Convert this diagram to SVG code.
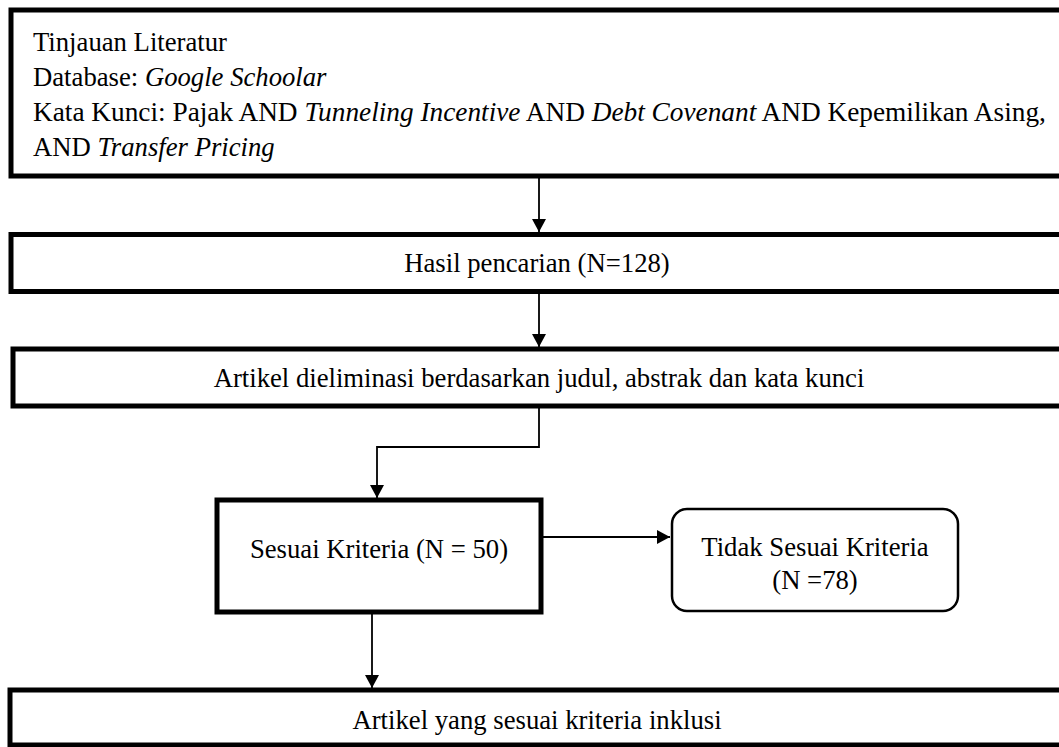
<svg xmlns="http://www.w3.org/2000/svg" width="1059" height="747" viewBox="0 0 1059 747">
<defs>
<style>
text{font-family:'Liberation Serif','Times New Roman',Times,serif;font-size:26.7px;fill:#000}
.c{text-anchor:middle}
.i{font-style:italic}
.w{font-size:27.3px}
.box{fill:#fff;stroke:#000;stroke-width:5}
.rbox{fill:#fff;stroke:#000;stroke-width:2.5}
.con{fill:none;stroke:#000;stroke-width:1.8}
</style>
<marker id="ah" markerWidth="14" markerHeight="14" refX="13" refY="7" orient="auto" markerUnits="userSpaceOnUse">
<path d="M0,0 L13,7 L0,14 Z" fill="#000"/>
</marker>
</defs>
<rect width="1059" height="747" fill="#fff"/>
<g id="connectors">
<line class="con" x1="539" y1="178" x2="539" y2="232" marker-end="url(#ah)"/>
<line class="con" x1="539" y1="294" x2="539" y2="347" marker-end="url(#ah)"/>
<polyline class="con" points="539,408 539,447 377,447 377,498" marker-end="url(#ah)"/>
<line class="con" x1="543" y1="537" x2="670" y2="537" marker-end="url(#ah)"/>
<line class="con" x1="372" y1="614" x2="372" y2="688" marker-end="url(#ah)"/>
</g>
<g id="n1">
<rect class="box" x="11" y="10" width="1070" height="166"/>
<text x="33" y="51">Tinjauan Literatur</text>
<text x="33" y="86">Database: <tspan class="i">Google Schoolar</tspan></text>
<text class="w" x="33" y="121">Kata Kunci: Pajak AND <tspan class="i">Tunneling Incentive</tspan> AND <tspan class="i">Debt Covenant</tspan> AND Kepemilikan Asing,</text>
<text x="33" y="156">AND <tspan class="i">Transfer Pricing</tspan></text>
</g>
<g id="n2">
<rect class="box" x="11" y="234.5" width="1070" height="57"/>
<text class="c" x="537" y="272">Hasil pencarian (N=128)</text>
</g>
<g id="n3">
<rect class="box" x="13" y="349" width="1070" height="57"/>
<text class="c" x="539" y="387">Artikel dieliminasi berdasarkan judul, abstrak dan kata kunci</text>
</g>
<g id="n4">
<rect class="box" x="217" y="500" width="324" height="112"/>
<text class="c" x="379" y="558">Sesuai Kriteria (N = 50)</text>
</g>
<g id="n5">
<rect class="rbox" x="672" y="509" width="286" height="102" rx="15" ry="15"/>
<text class="c" x="815" y="556">Tidak Sesuai Kriteria</text>
<text class="c" x="815" y="589">(N =78)</text>
</g>
<g id="n6">
<rect class="box" x="10" y="690" width="1070" height="55"/>
<text class="c" x="537" y="729">Artikel yang sesuai kriteria inklusi</text>
</g>
</svg>
